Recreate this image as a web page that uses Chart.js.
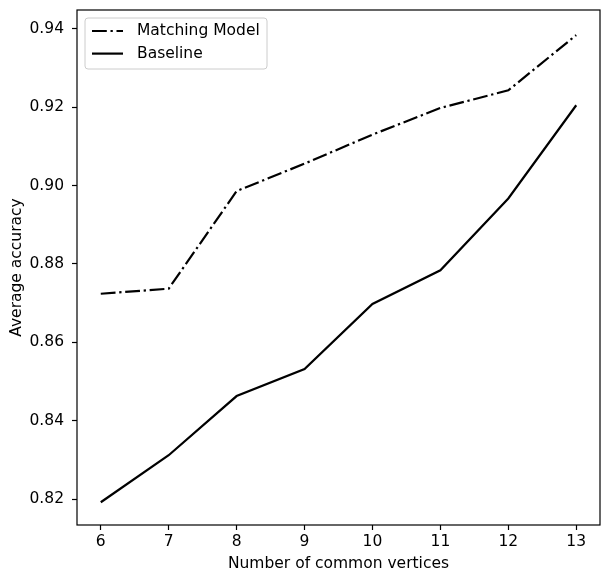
<!DOCTYPE html>
<html>
<head>
<meta charset="utf-8">
<script src="https://cdn.jsdelivr.net/npm/chart.js@4"></script>
<style>
  html, body { margin: 0; padding: 0; background: #fff; }
  #wrap { width: 602px; height: 573px; }
</style>
</head>
<body>
<div id="wrap"><canvas id="chart" width="602" height="573"></canvas></div>
<script>
// x values (number of common vertices)
const vertices = [6, 7, 8, 9, 10, 11, 12, 13];
// average accuracy per series
const matchingModel = [0.8724, 0.8737, 0.8986, 0.9056, 0.9130, 0.9198, 0.9243, 0.9384];
const baseline = [0.8192, 0.8312, 0.8463, 0.8532, 0.8698, 0.8784, 0.8967, 0.9205];
// tick labels
const xTicks = [6, 7, 8, 9, 10, 11, 12, 13];
const yTicks = [0.82, 0.84, 0.86, 0.88, 0.90, 0.92, 0.94];

const FONT = 'DejaVu Sans';
const FSIZE = 15.5;

function toPoints(ys) {
    return vertices.map((x, i) => ({ x: x, y: ys[i] }));
}

// frame around the plot area (matplotlib style box)
const framePlugin = {
    id: 'frame',
    afterDatasetsDraw(chart) {
        const a = chart.chartArea;
        const ctx = chart.ctx;
        ctx.save();
        ctx.strokeStyle = '#000';
        ctx.lineWidth = 1.2;
        ctx.strokeRect(a.left, a.top, a.right - a.left, a.bottom - a.top);
        ctx.restore();
    }
};

// legend drawn inside the axes, upper left
const innerLegend = {
    id: 'innerLegend',
    afterDraw(chart) {
        const ctx = chart.ctx;
        const a = chart.chartArea;
        const x0 = a.left + 8, y0 = a.top + 8, w = 182, h = 51, r = 3;
        ctx.save();
        ctx.beginPath();
        ctx.moveTo(x0 + r, y0);
        ctx.arcTo(x0 + w, y0, x0 + w, y0 + h, r);
        ctx.arcTo(x0 + w, y0 + h, x0, y0 + h, r);
        ctx.arcTo(x0, y0 + h, x0, y0, r);
        ctx.arcTo(x0, y0, x0 + w, y0, r);
        ctx.closePath();
        ctx.fillStyle = 'rgba(255,255,255,0.8)';
        ctx.fill();
        ctx.strokeStyle = '#cccccc';
        ctx.lineWidth = 1;
        ctx.stroke();

        ctx.font = FSIZE + 'px "' + FONT + '"';
        ctx.textBaseline = 'middle';
        ctx.fillStyle = '#000';
        chart.data.datasets.forEach((ds, i) => {
            const yy = y0 + 13 + i * 22.6;
            ctx.beginPath();
            ctx.setLineDash(ds.borderDash || []);
            ctx.lineWidth = ds.borderWidth;
            ctx.strokeStyle = ds.borderColor;
            ctx.moveTo(x0 + 7, yy);
            ctx.lineTo(x0 + 38, yy);
            ctx.stroke();
            ctx.setLineDash([]);
            ctx.fillText(ds.label, x0 + 52, yy);
        });
        ctx.restore();
    }
};

const ctx = document.getElementById('chart').getContext('2d');
const chart = new Chart(ctx, {
    type: 'line',
    data: {
        datasets: [{
            label: 'Matching Model',
            data: toPoints(matchingModel),
            borderColor: '#000',
            borderWidth: 2.2,
            borderDash: [14.8, 3.7, 2.3, 3.7],
            pointRadius: 0,
            fill: false,
            tension: 0
        }, {
            label: 'Baseline',
            data: toPoints(baseline),
            borderColor: '#000',
            borderWidth: 2.2,
            pointRadius: 0,
            fill: false,
            tension: 0
        }]
    },
    options: {
        responsive: false,
        animation: false,
        layout: {
            padding: { left: 8, top: 10, right: 2, bottom: 0 }
        },
        plugins: {
            legend: { display: false },
            tooltip: { enabled: false }
        },
        scales: {
            x: {
                type: 'linear',
                min: 5.65,
                max: 13.35,
                afterBuildTicks: (scale) => {
                    scale.ticks = xTicks.map(v => ({ value: v }));
                },
                afterFit: (scale) => {
                    scale.height = 48;
                    scale.paddingLeft = 0;
                    scale.paddingRight = 0;
                },
                grid: {
                    drawOnChartArea: false,
                    drawTicks: true,
                    tickLength: 5,
                    tickColor: '#000',
                    tickWidth: 1.2
                },
                border: { display: false },
                ticks: {
                    color: '#000',
                    padding: 3,
                    maxRotation: 0,
                    font: { family: FONT, size: FSIZE },
                    callback: (v) => String(v)
                },
                title: {
                    display: true,
                    text: 'Number of common vertices',
                    color: '#000',
                    padding: 0,
                    font: { family: FONT, size: FSIZE }
                }
            },
            y: {
                type: 'linear',
                min: 0.8134,
                max: 0.9448,
                afterBuildTicks: (scale) => {
                    scale.ticks = yTicks.map(v => ({ value: v }));
                },
                afterFit: (scale) => {
                    scale.width = 69;
                    scale.paddingTop = 0;
                    scale.paddingBottom = 0;
                },
                grid: {
                    drawOnChartArea: false,
                    drawTicks: true,
                    tickLength: 5,
                    tickColor: '#000',
                    tickWidth: 1.2
                },
                border: { display: false },
                ticks: {
                    color: '#000',
                    padding: 8,
                    font: { family: FONT, size: FSIZE },
                    callback: (v) => v.toFixed(2)
                },
                title: {
                    display: true,
                    text: 'Average accuracy',
                    color: '#000',
                    padding: 0,
                    font: { family: FONT, size: FSIZE }
                }
            }
        }
    },
    plugins: [framePlugin, innerLegend]
});
</script>
</body>
</html>
